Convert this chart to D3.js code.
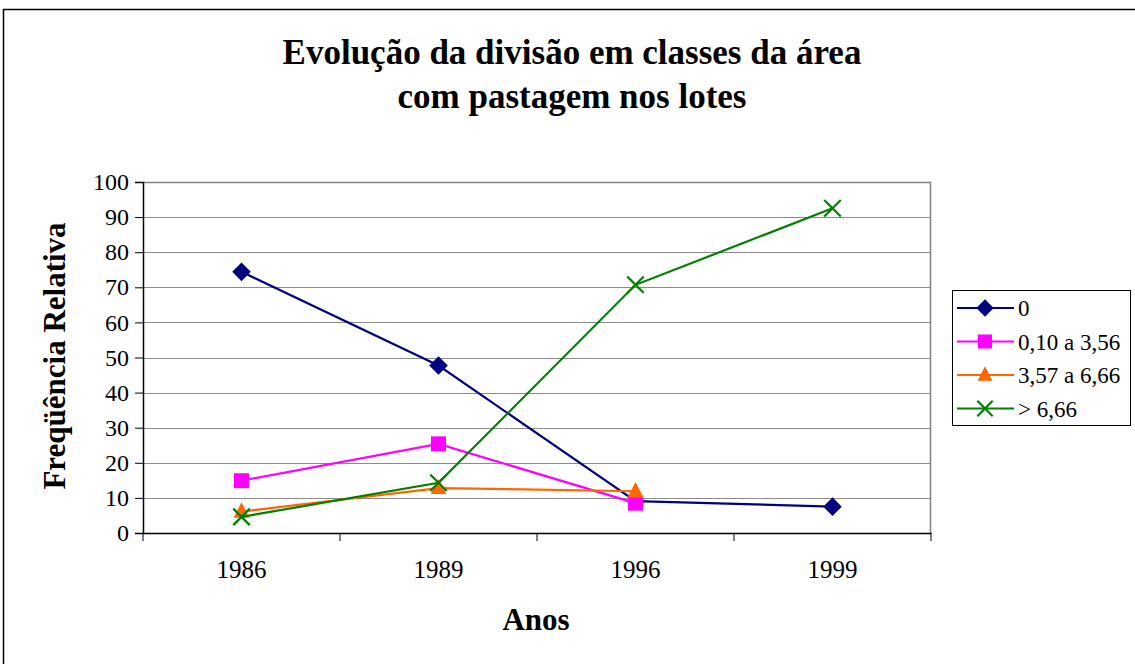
<!DOCTYPE html>
<html>
<head>
<meta charset="utf-8">
<script src="https://cdn.jsdelivr.net/npm/d3@7"></script>
<style>
  body { margin: 0; background: #fff; }
  svg text { font-family: "Liberation Serif", "Times New Roman", "DejaVu Serif", serif; }
</style>
</head>
<body>
<svg id="drawing_region"></svg>
<script>
// data
const years = ['1986', '1989', '1996', '1999'];
const seriesNames = ['0', '0,10 a 3,56', '3,57 a 6,66', '> 6,66'];
const classe0 = [74.4, 47.7, 9.1, 7.5];
const classe010 = [14.9, 25.4, 8.5, null];
const classe357 = [6.1, 12.8, 11.9, null];
const classe666 = [4.6, 14.3, 70.7, 92.5];
const yTicks = [0, 10, 20, 30, 40, 50, 60, 70, 80, 90, 100];

const colors = ['#000080', '#ff00ff', '#ff6600', '#008000'];
const symbols = ['diamond', 'square', 'triangle', 'cross'];
const allValues = [classe0, classe010, classe357, classe666];

const width = 1135, height = 664;
const margin = { top: 182, right: 204, bottom: 131, left: 143 };

const svg = d3.select('#drawing_region')
    .attr('width', width)
    .attr('height', height);

// outer chart frame
svg.append('rect')
    .attr('x', 3.5).attr('y', 9.5)
    .attr('width', width + 10).attr('height', height + 10)
    .attr('fill', 'none').attr('stroke', '#000').attr('stroke-width', 1.5);

const inner_width = width - margin.left - margin.right;
const inner_height = height - margin.top - margin.bottom;

const chart = svg.append('g')
    .attr('transform', `translate(${margin.left},${margin.top})`);

const xScale = d3.scaleBand().domain(years).range([0, inner_width]);
const yScale = d3.scaleLinear().domain([0, 100]).range([inner_height, 0]);

// gridlines
chart.append('g').selectAll('line')
    .data(yTicks.slice(1))
    .join('line')
    .attr('x1', 0).attr('x2', inner_width)
    .attr('y1', d => Math.round(yScale(d)) + 0.5)
    .attr('y2', d => Math.round(yScale(d)) + 0.5)
    .attr('stroke', '#8c8c8c').attr('stroke-width', 1);

// plot area border (top/right gray)
chart.append('path')
    .attr('d', `M0,0.5H${inner_width - 0.5}V${inner_height}`)
    .attr('fill', 'none').attr('stroke', '#808080').attr('stroke-width', 1.5);

const serif = '"Liberation Serif", "Times New Roman", serif';

// y axis
const yAxis = chart.append('g')
    .call(d3.axisLeft(yScale).tickValues(yTicks).tickSize(8).tickPadding(6));
yAxis.attr('font-family', serif);
yAxis.select('.domain').attr('stroke', '#000').attr('stroke-width', 1.5);
yAxis.selectAll('.tick line').attr('stroke', '#000');
yAxis.selectAll('.tick text')
    .attr('font-size', 24).attr('fill', '#000')
    .attr('font-family', serif);

// x axis with ticks between categories
const xAxis = chart.append('g')
    .attr('transform', `translate(0,${inner_height})`)
    .call(d3.axisBottom(xScale).tickSize(0).tickPadding(27));
xAxis.attr('font-family', serif);
xAxis.select('.domain').attr('stroke', '#000').attr('stroke-width', 1.5);
xAxis.selectAll('.tick text')
    .attr('font-size', 25).attr('fill', '#000')
    .attr('font-family', serif);
xAxis.selectAll('.sep')
    .data(d3.range(years.length + 1))
    .join('line')
    .attr('class', 'sep')
    .attr('x1', i => i * xScale.step()).attr('x2', i => i * xScale.step())
    .attr('y1', 0).attr('y2', 8)
    .attr('stroke', '#000');

function marker(sel, type, color, size) {
    if (type === 'cross') {
        const r = size * 0.55;
        sel.append('path')
            .attr('d', `M${-r},${-r}L${r},${r}M${-r},${r}L${r},${-r}`)
            .attr('stroke', color).attr('stroke-width', 2.2).attr('fill', 'none');
    } else if (type === 'diamond') {
        const r = size * 0.62;
        sel.append('path')
            .attr('d', `M0,${-r}L${r},0L0,${r}L${-r},0Z`)
            .attr('fill', color);
    } else if (type === 'square') {
        const r = size * 0.5;
        sel.append('rect')
            .attr('x', -r).attr('y', -r).attr('width', 2 * r).attr('height', 2 * r)
            .attr('fill', color);
    } else {
        const r = size * 0.62;
        sel.append('path')
            .attr('d', `M0,${-r}L${r * 0.85},${r * 0.65}L${-r * 0.85},${r * 0.65}Z`)
            .attr('fill', color);
    }
}

const line = d3.line()
    .defined(d => d.v !== null)
    .x(d => xScale(d.year) + xScale.bandwidth() / 2)
    .y(d => yScale(d.v));

allValues.forEach((vals, i) => {
    const pts = years.map((y, j) => ({ year: y, v: vals[j] }));
    chart.append('path')
        .datum(pts)
        .attr('d', line)
        .attr('fill', 'none')
        .attr('stroke', colors[i])
        .attr('stroke-width', 2.2);
    pts.filter(d => d.v !== null).forEach(d => {
        const g = chart.append('g')
            .attr('transform', `translate(${xScale(d.year) + xScale.bandwidth() / 2},${yScale(d.v)})`);
        marker(g, symbols[i], colors[i], 15);
    });
});

// title
const title = svg.append('text')
    .attr('x', 572).attr('y', 64)
    .attr('text-anchor', 'middle')
    .attr('font-size', 35).attr('font-weight', 'bold');
title.append('tspan').attr('x', 572).text('Evolução da divisão em classes da área');
title.append('tspan').attr('x', 572).attr('dy', 44).text('com pastagem nos lotes');

// axis titles
svg.append('text')
    .attr('x', 536).attr('y', 630)
    .attr('text-anchor', 'middle')
    .attr('font-size', 31).attr('font-weight', 'bold')
    .text('Anos');

svg.append('text')
    .attr('transform', 'translate(65,356) rotate(-90)')
    .attr('text-anchor', 'middle')
    .attr('font-size', 31).attr('font-weight', 'bold')
    .text('Freqüência Relativa');

// legend
const legend = svg.append('g').attr('transform', 'translate(952,290)');
legend.append('rect')
    .attr('x', 0.5).attr('y', 0.5).attr('width', 178).attr('height', 135)
    .attr('fill', '#fff').attr('stroke', '#000').attr('stroke-width', 1);
seriesNames.forEach((name, i) => {
    const row = legend.append('g').attr('transform', `translate(0,${18 + i * 33.5})`);
    row.append('line')
        .attr('x1', 5).attr('x2', 62).attr('y1', 0).attr('y2', 0)
        .attr('stroke', colors[i]).attr('stroke-width', 2.2);
    const m = row.append('g').attr('transform', 'translate(33,0)');
    marker(m, symbols[i], colors[i], 14);
    row.append('text')
        .attr('x', 66).attr('y', 8)
        .attr('font-size', 23)
        .text(name);
});
</script>
</body>
</html>
